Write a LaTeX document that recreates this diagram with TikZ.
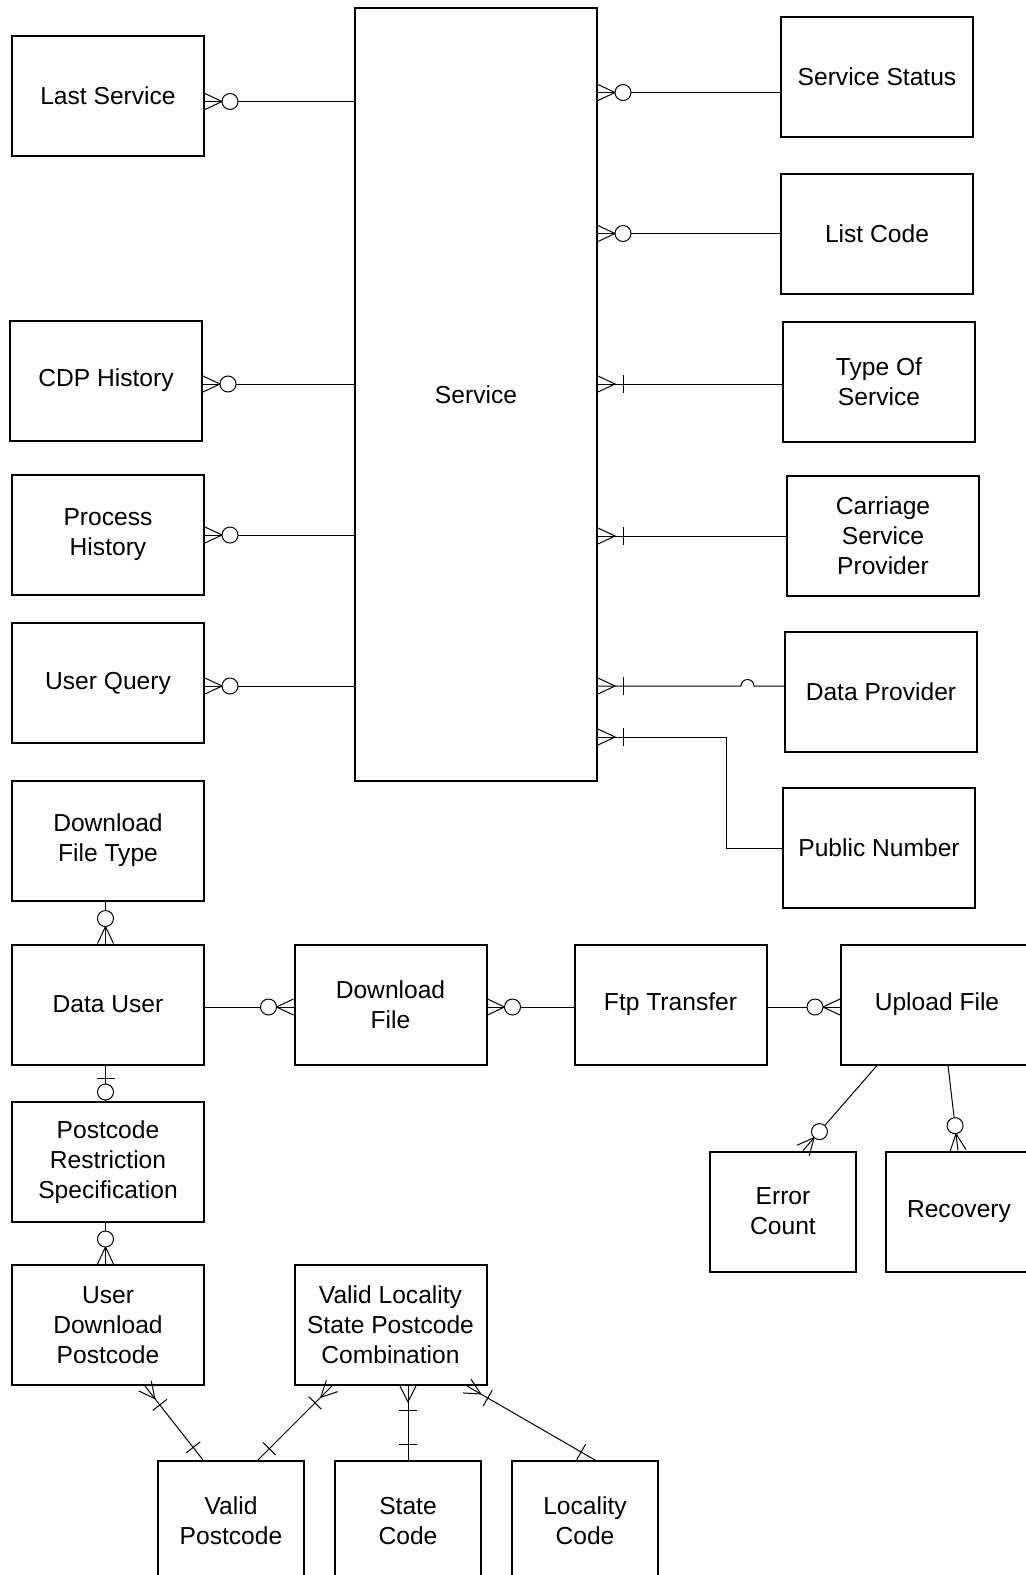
\documentclass[tikz,border=0pt]{standalone}
\usepackage{fontspec}
\setmainfont{Liberation Sans}
\usetikzlibrary{decorations.markings}
\newcommand\erfont{\fontsize{12.3}{15}\selectfont}
\tikzset{
	entity/.style={draw, line width=1pt, minimum width=96pt, minimum height=60pt, inner sep=1pt, align=center, font=\erfont},
	small entity/.style={entity, minimum width=73pt},
	rel/.style={line width=0.5pt},
	zero many/.style={postaction={decorate, decoration={markings, mark=at position 1 with {
		\draw (0,4pt) -- (-8.5pt,0) -- (0,-4pt);
		\draw[fill=white] (-12.5pt,0) circle (4pt);}}}},
	one many/.style={postaction={decorate, decoration={markings, mark=at position 1 with {
		\draw (0,4pt) -- (-8.5pt,0) -- (0,-4pt);
		\draw (-12.5pt,4.5pt) -- (-12.5pt,-4.5pt);}}}},
	one many start/.style={postaction={decorate, decoration={markings, mark=at position 0 with {
		\draw (0,4pt) -- (8pt,0) -- (0,-4pt);
		\draw (12pt,4.5pt) -- (12pt,-4.5pt);}}}},
	one end/.style={postaction={decorate, decoration={markings, mark=at position 1 with {
		\draw (-8pt,4.5pt) -- (-8pt,-4.5pt);}}}},
	zero one/.style={postaction={decorate, decoration={markings, mark=at position 0 with {
		\draw (6.5pt,4.5pt) -- (6.5pt,-4.5pt);}, mark=at position 1 with {
		\draw[fill=white] (-4.5pt,0) circle (4pt);}}}}
}
\begin{document}
\begin{tikzpicture}[x=0.5pt, y=-0.5pt]
	\useasboundingbox (0,0) rectangle (1026,1575);
	\clip (0,0) rectangle (1026,1575);

	\node[entity, minimum width=121pt, minimum height=386.5pt] (Service) at (476,394.5) {Service};
	\node[entity] (LastService) at (108,96) {Last Service};
	\node[entity] (CDPHistory) at (106,380.5) {CDP History};
	\node[entity] (ProcessHistory) at (108,535) {Process\\History};
	\node[entity] (UserQuery) at (108,683) {User Query};
	\node[entity] (ServiceStatus) at (877,77) {Service Status};
	\node[entity] (ListCode) at (877,233.5) {List Code};
	\node[entity] (TypeOfService) at (879,382) {Type Of\\Service};
	\node[entity] (Carriage) at (883,536) {Carriage\\Service\\Provider};
	\node[entity] (DataProvider) at (881,691.5) {Data Provider};
	\node[entity] (PublicNumber) at (879,848) {Public Number};

	\node[entity] (DownloadFileType) at (108,840.5) {Download\\File Type};
	\node[entity] (DataUser) at (108,1004.5) {Data User};
	\node[entity] (DownloadFile) at (390.5,1004.5) {Download\\File};
	\node[entity] (FtpTransfer) at (670.5,1004.5) {Ftp Transfer};
	\node[entity] (UploadFile) at (937,1004.5) {Upload File};
	\node[small entity] (ErrorCount) at (783,1211.5) {Error\\Count};
	\node[small entity] (Recovery) at (959,1211.5) {Recovery};

	\node[entity] (PostcodeRestriction) at (108,1162) {Postcode\\Restriction\\Specification};
	\node[entity] (UserDownloadPostcode) at (108,1325) {User\\Download\\Postcode};
	\node[entity] (ValidLocality) at (390.5,1325) {Valid Locality\\State Postcode\\Combination};
	\node[small entity] (ValidPostcode) at (231,1521) {Valid\\Postcode};
	\node[small entity] (StateCode) at (408,1521) {State\\Code};
	\node[small entity] (LocalityCode) at (585,1521) {Locality\\Code};

	\draw[rel, zero many] ([yshift=-2.75pt]Service.west |- LastService.east) -- ([yshift=-2.75pt]LastService.east);
	\draw[rel, zero many] ([yshift=-1.75pt]Service.west |- CDPHistory.east) -- ([yshift=-1.75pt]CDPHistory.east);
	\draw[rel, zero many] (Service.west |- ProcessHistory.east) -- (ProcessHistory.east);
	\draw[rel, zero many] ([yshift=-1.5pt]Service.west |- UserQuery.east) -- ([yshift=-1.5pt]UserQuery.east);
	\draw[rel, zero many] ([yshift=-7.75pt]ServiceStatus.west) -- ([yshift=-7.75pt]Service.east |- ServiceStatus.west);
	\draw[rel, zero many] (ListCode.west) -- (Service.east |- ListCode.west);
	\draw[rel, one many] ([yshift=-1pt]TypeOfService.west) -- ([yshift=-1pt]Service.east |- TypeOfService.west);
	\draw[rel, one many] (Carriage.west) -- (Service.east |- Carriage.west);
	\draw[rel, one many] ([yshift=2.75pt]DataProvider.west) -- ++(-30,0) arc[start angle=0, end angle=180, radius=3.25pt] -- ([yshift=2.75pt]Service.east |- DataProvider.west);
	\draw[rel, one many] (PublicNumber.west) -- ++(-56,0) |- ([yshift=22.5pt]Service.south east);

	\draw[rel, zero many] ([xshift=-1.25pt]DownloadFileType.south) -- ([xshift=-1.25pt]DataUser.north);
	\draw[rel, zero many] ([yshift=-1.25pt]DataUser.east) -- ([yshift=-1.25pt]DownloadFile.west);
	\draw[rel, zero many] ([yshift=-1.25pt]FtpTransfer.west) -- ([yshift=-1.25pt]DownloadFile.east);
	\draw[rel, zero many] ([yshift=-1.25pt]FtpTransfer.east) -- ([yshift=-1.25pt]UploadFile.west);
	\draw[rel, zero many] ([xshift=18.5pt]UploadFile.south west) -- ([xshift=10pt]ErrorCount.north);
	\draw[rel, zero many] ([xshift=5.5pt]UploadFile.south) -- ([xshift=-0.5pt]Recovery.north);
	\draw[rel, zero one] ([xshift=-1.25pt]DataUser.south) -- ([xshift=-1.25pt]PostcodeRestriction.north);
	\draw[rel, zero many] ([xshift=-1.25pt]PostcodeRestriction.south) -- ([xshift=-1.25pt]UserDownloadPostcode.north);

	\draw[rel, one many start, one end] ([xshift=18.5pt]UserDownloadPostcode.south) -- ([xshift=-14pt]ValidPostcode.north);
	\draw[rel, one many start, one end] ([xshift=-29.25pt]ValidLocality.south) -- ([xshift=13.5pt]ValidPostcode.north);
	\draw[rel, one many start, one end] ([xshift=8.75pt]ValidLocality.south) -- (StateCode.north);
	\draw[rel, one many start, one end] ([xshift=38.25pt]ValidLocality.south) -- ([xshift=5pt]LocalityCode.north);
\end{tikzpicture}
\end{document}
